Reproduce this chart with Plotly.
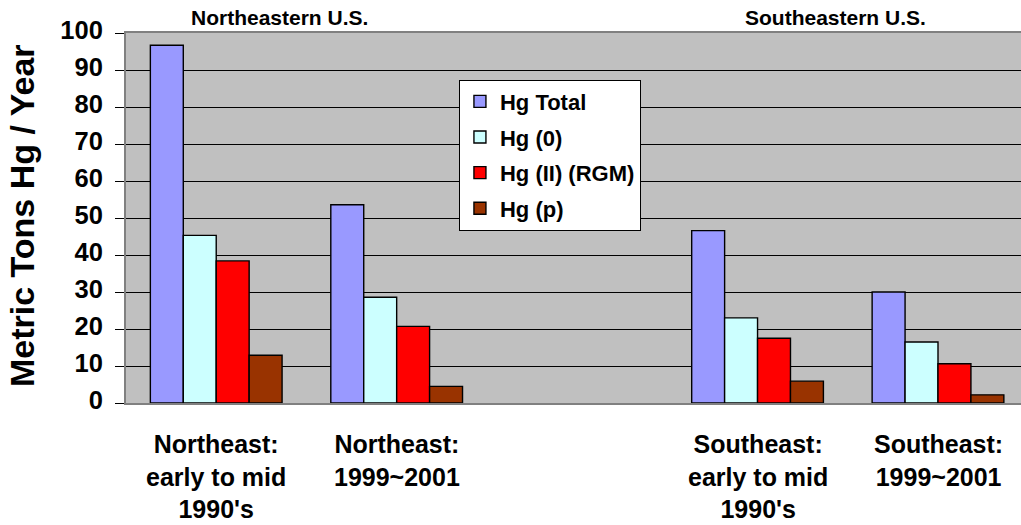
import plotly.graph_objects as go

# Annual mercury emissions by region and period (metric tons Hg / year)
categories = [
    "Northeast:<br>early to mid<br>1990's",
    "Northeast:<br>1999~2001",
    " ",
    "Southeast:<br>early to mid<br>1990's",
    "Southeast:<br>1999~2001",
]
hg_total = [96.7, 53.6, None, 46.6, 30.0]
hg_0 = [45.3, 28.6, None, 23.0, 16.5]
hg_ii_rgm = [38.4, 20.7, None, 17.5, 10.6]
hg_p = [12.9, 4.5, None, 5.9, 2.2]

series_names = ["Hg Total", "Hg (0)", "Hg (II) (RGM)", "Hg (p)"]
series_values = [hg_total, hg_0, hg_ii_rgm, hg_p]
series_colors = ["#9999FF", "#CCFFFF", "#FF0000", "#993300"]

region_titles = ["Northeastern U.S.", "Southeastern U.S."]
region_title_x = [0.172, 0.793]

y_ticks = list(range(0, 101, 10))

FONT = "Liberation Sans, Arial, sans-serif"

fig = go.Figure()
for i, (name, vals, col) in enumerate(zip(series_names, series_values, series_colors)):
    fig.add_trace(go.Bar(
        x=categories,
        y=vals,
        name=name,
        legendgroup=f"g{i}",
        marker=dict(color=col, line=dict(color="#000000", width=1.4)),
    ))

annotations = []
for cat in categories:
    if cat.strip():
        annotations.append(dict(
            x=cat, y=0, xref="x", yref="y",
            text=cat, showarrow=False,
            xanchor="center", yanchor="top", yshift=-25,
            font=dict(family=FONT, size=25, color="#000000", weight="bold"),
        ))
for t, xp in zip(region_titles, region_title_x):
    annotations.append(dict(
        x=xp, y=1.043, xref="paper", yref="paper",
        text=t, showarrow=False, xanchor="center", yanchor="middle",
        font=dict(family=FONT, size=21, color="#000000", weight="bold"),
    ))
annotations.append(dict(
    x=-0.1155, y=0.507, xref="paper", yref="paper",
    text="Metric Tons Hg / Year", showarrow=False, textangle=-90,
    xanchor="center", yanchor="middle",
    font=dict(family=FONT, size=34, color="#000000", weight="bold"),
))

fig.update_layout(
    width=1021, height=525,
    margin=dict(l=126, r=0, t=33, b=122),
    paper_bgcolor="#FFFFFF",
    plot_bgcolor="#C0C0C0",
    barmode="group",
    bargap=0.27,
    bargroupgap=0,
    showlegend=True,
    legend=dict(
        x=0.372, y=0.874, xanchor="left", yanchor="top",
        bgcolor="#FFFFFF", bordercolor="#000000", borderwidth=1,
        font=dict(family=FONT, size=22, color="#000000", weight="bold"),
        tracegroupgap=4,
    ),
    annotations=annotations,
)

fig.update_xaxes(
    type="category",
    categoryorder="array", categoryarray=categories,
    range=[-0.5, 4.46],
    showticklabels=False, ticks="",
    showgrid=False,
    showline=True, mirror=True, linecolor="#808080", linewidth=2,
    zeroline=False,
)
fig.update_yaxes(
    range=[0, 100],
    tickvals=y_ticks,
    ticks="outside", ticklen=9, tickcolor="#000000", tickwidth=1,
    ticklabelstandoff=7,
    ticklabelshift=-3,
    tickfont=dict(family=FONT, size=25.5, color="#000000", weight="bold"),
    showgrid=True, gridcolor="#000000", gridwidth=1,
    showline=True, linecolor="#808080", linewidth=2,
    zeroline=False,
)

fig.write_html("out.html")
